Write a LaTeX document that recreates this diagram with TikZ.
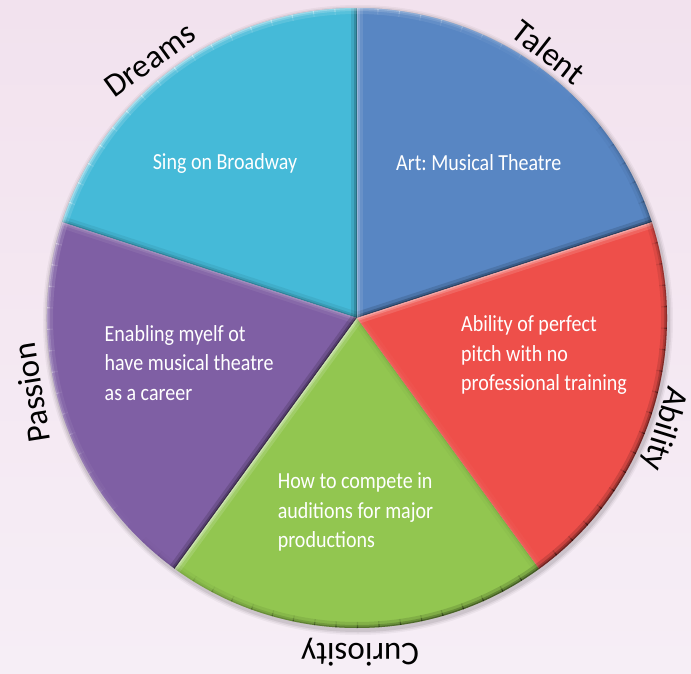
\documentclass[tikz,border=0pt]{standalone}
\usepackage{fontspec}
\setmainfont{Carlito}
\newfontfamily\cond[FakeStretch=0.87]{Carlito}
\frenchspacing
\definecolor{bgtop}{HTML}{F2E2EE}
\definecolor{bgbot}{HTML}{F6EEF6}
\definecolor{cDream}{HTML}{45BAD8}
\definecolor{cTalent}{HTML}{5886C3}
\definecolor{cAbil}{HTML}{EE4F4A}
\definecolor{cCur}{HTML}{92C650}
\definecolor{cPass}{HTML}{7F5FA4}
\def\R{310}
\tikzset{
  intext/.style={text=white, font=\cond\fontsize{23}{29.3}\selectfont, align=left, anchor=west, inner sep=0pt},
  outtext/.style={text=black, font=\fontsize{33}{36}\selectfont, inner sep=0pt},
}
\newcommand\edgeshade[2]{%
  \pgfmathsetmacro\bb{#2}%
  \foreach \w/\o in {12/0.10,6/0.16,2.5/0.22}{%
    \pgfmathsetmacro\op{abs(\o*\bb)*1.4}%
    \pgfmathparse{\bb>0?1:0}%
    \ifnum\pgfmathresult=1
      \draw[white, line width=\w pt, draw opacity=\op, line cap=butt] #1;
    \else
      \draw[black, line width=\w pt, draw opacity=\op, line cap=butt] #1;
    \fi
  }%
}
\newcommand\sector[3]{%
  \fill[#3] (0,0) -- (#1:\R) arc[start angle=#1, end angle=#2, radius=\R] -- cycle;
  \begin{scope}
    \clip (0,0) -- (#1:\R) arc[start angle=#1, end angle=#2, radius=\R] -- cycle;
    \edgeshade{(0,0) -- (#1:\R)}{cos(#1-225)}
    \edgeshade{(0,0) -- (#2:\R)}{cos(#2-45)}
    \foreach \t in {0,4,...,68}{%
      \pgfmathsetmacro\ta{#1+\t}%
      \edgeshade{(\ta:\R) arc[start angle=\ta, delta angle=4.2, radius=\R]}{cos(\ta+2-135)}
    }
  \end{scope}
}
\begin{document}
\begin{tikzpicture}[x=1pt,y=1pt]
  \useasboundingbox (-357,-355) rectangle (334,318);
  \shade[top color=bgtop, bottom color=bgbot] (-357,-355) rectangle (334,318);
  % shadow
  \foreach \s/\o in {5/0.04,3.5/0.06,2/0.08}{\fill[black, opacity=\o] (1,-2) circle[radius=\R+\s];}
  \sector{18}{90}{cTalent}
  \sector{90}{162}{cDream}
  \sector{162}{234}{cPass}
  \sector{234}{306}{cCur}
  \sector{306}{378}{cAbil}
  % inner texts
  \node[intext, anchor=center] (tDream) at (-132,155) {Sing on Broadway};
  \node[intext] (tTalent) at (39,155) {Art: Musical Theatre};
  \node[intext] (tAbil) at (104,-37) {Ability of perfect\\pitch with no\\professional training};
  \node[intext] (tPass) at (-252.5,-45) {Enabling myelf ot\\have musical theatre\\as a career};
  \node[intext] (tCur) at (-79.4,-194) {How to compete in\\auditions for major\\productions};
  % outer labels
  \node[outtext, rotate=36] (lDream) at (-207,258) {Dreams};
  \node[outtext, rotate=-38] (lTalent) at (192,266) {Talent};
  \node[outtext, rotate=-107] (lAbil) at (307,-111) {Ability};
  \node[outtext, rotate=180] (lCur) at (3,-334) {Curiosity};
  \node[outtext, rotate=99] (lPass) at (-325,-75) {Passion};
\end{tikzpicture}
\end{document}
